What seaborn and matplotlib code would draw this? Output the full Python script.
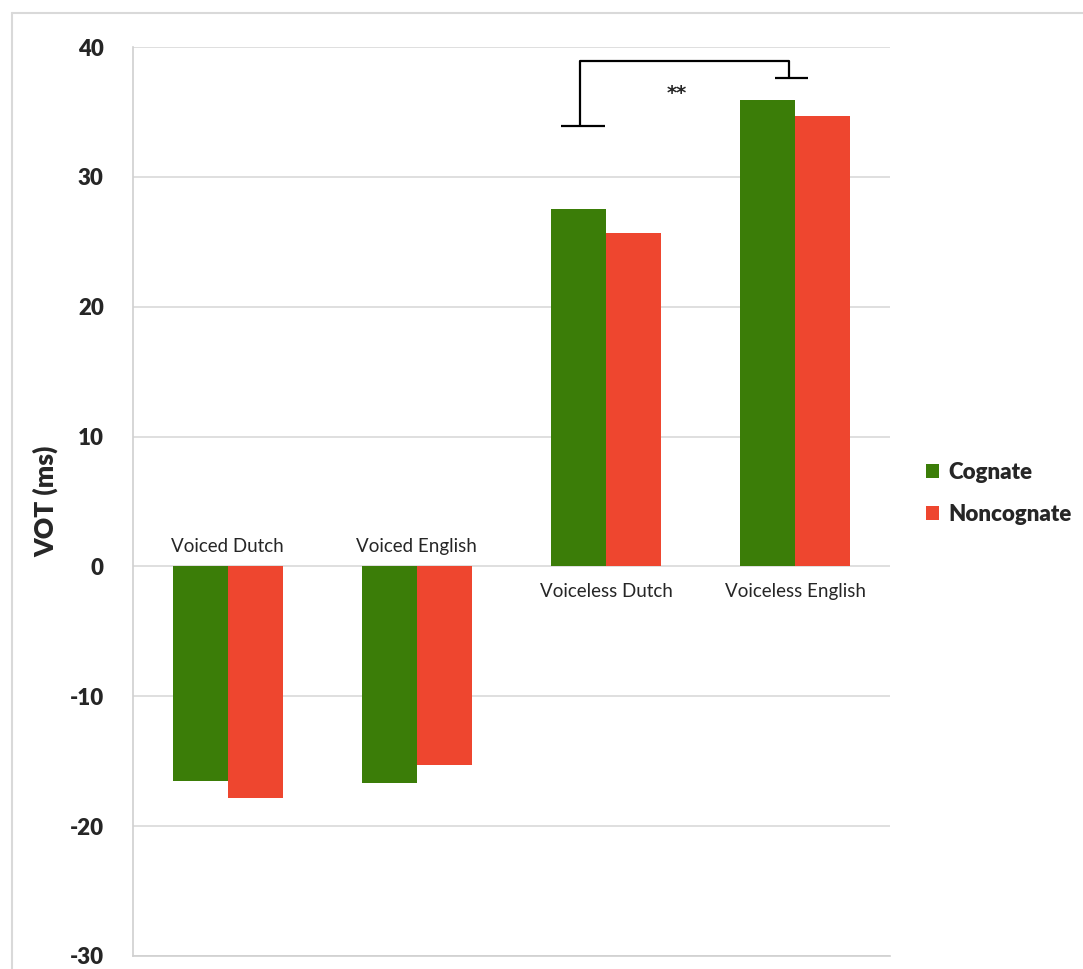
import numpy as np
import pandas as pd
import seaborn as sns
import matplotlib.pyplot as plt
from matplotlib.lines import Line2D

# VOT means
categories = ["Voiced Dutch", "Voiced English", "Voiceless Dutch", "Voiceless English"]
cognate = [-16.5, -16.7, 27.5, 35.9]
noncognate = [-17.8, -15.3, 25.7, 34.7]
conditions = ["Cognate", "Noncognate"]
yticks = [-30, -20, -10, 0, 10, 20, 30, 40]


def make_plot():
    df = pd.DataFrame({
        "category": categories * 2,
        "condition": [conditions[0]] * 4 + [conditions[1]] * 4,
        "vot": cognate + noncognate,
    })

    sns.set_style("white")
    plt.rcParams["font.family"] = ["Lato", "DejaVu Sans"]

    fig = plt.figure(figsize=(10.83, 9.69), dpi=100)
    ax = fig.add_axes([133 / 1083, 1 - 956 / 969, 757 / 1083, 909 / 969])

    sns.barplot(data=df, x="category", y="vot", hue="condition", order=categories,
                hue_order=conditions, palette=["#3b7d08", "#ee462f"], width=0.58,
                saturation=1, errorbar=None, linewidth=0, ax=ax, zorder=3)

    ax.set_xlim(-0.5, 3.5)
    ax.set_ylim(-30, 40)
    ax.set_yticks(yticks)
    ax.set_yticklabels([str(t) for t in yticks], fontsize=16, fontweight="heavy")
    ax.tick_params(axis="y", length=0, pad=21)
    ax.set_xticks([])
    ax.set_xlabel("")
    ax.set_ylabel("VOT (ms)", fontsize=19, fontweight="heavy")
    ax.yaxis.set_label_coords(-0.099, 0.5)

    ax.yaxis.grid(True, color="#d9d9d9", lw=1.2, zorder=0)
    ax.set_axisbelow(True)
    for side in ["top", "right"]:
        ax.spines[side].set_visible(False)
    for side in ["left", "bottom"]:
        ax.spines[side].set_color("#d0d0d0")
        ax.spines[side].set_linewidth(1.2)

    # category names sit beside the zero line, opposite to the bars
    for i, cat in enumerate(categories):
        above = max(cognate[i], noncognate[i]) < 0
        ax.text(i, 1.5 if above else -1.9, cat, ha="center", va="center", fontsize=13.5)

    # significance bracket
    k = dict(color="black", lw=1.6, solid_capstyle="butt", zorder=4)
    ax.plot([1.862, 1.862, 2.966, 2.966], [33.9, 38.9, 38.9, 37.6], **k)
    ax.plot([1.762, 1.994], [33.9, 33.9], **k)
    ax.plot([2.892, 3.067], [37.6, 37.6], **k)
    ax.text(2.375, 36.4, "**", ha="center", va="center", fontsize=14,
            fontweight="bold", family="DejaVu Sans")

    handles, labels = ax.get_legend_handles_labels()
    ax.legend(handles, labels, loc="center left", bbox_to_anchor=(926 / 1083, 1 - 493.5 / 969),
              bbox_transform=fig.transFigure, frameon=False, borderpad=0, borderaxespad=0,
              handlelength=0.6, handleheight=0.6, handletextpad=0.4, labelspacing=0.95,
              prop={"size": 16, "weight": "heavy"})

    # light frame around the chart (top and left edges)
    fig.add_artist(Line2D([12 / 1083, 1], [1 - 13 / 969, 1 - 13 / 969],
                          transform=fig.transFigure, color="#d9d9d9", lw=1.5))
    fig.add_artist(Line2D([12 / 1083, 12 / 1083], [0, 1 - 13 / 969],
                          transform=fig.transFigure, color="#d9d9d9", lw=1.5))

    fig.savefig("out.png", dpi=100)


if __name__ == "__main__":
    make_plot()
